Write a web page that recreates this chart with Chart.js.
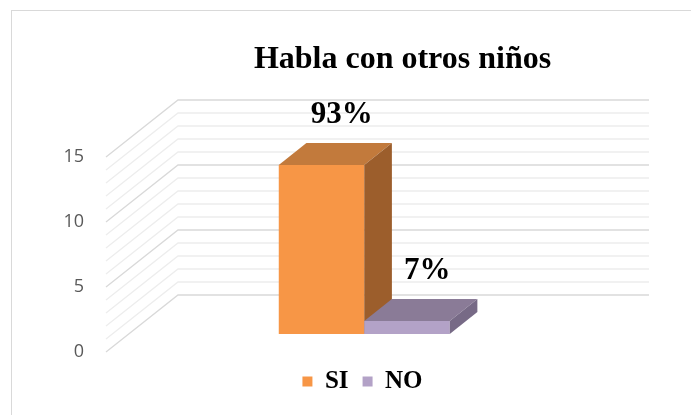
<!DOCTYPE html>
<html>
<head>
<meta charset="utf-8">
<title>Habla con otros niños</title>
<script src="https://cdn.jsdelivr.net/npm/chart.js@4.4.0/dist/chart.umd.min.js"></script>
<style>
    html, body { margin: 0; padding: 0; background: #fff; }
    #wrap { position: relative; width: 691px; height: 415px; overflow: hidden; }
    #frame {
        position: absolute; left: 11px; top: 10px; right: -2px; bottom: -2px;
        border-left: 1px solid #d9d9d9; border-top: 1px solid #d9d9d9;
        pointer-events: none;
    }
</style>
</head>
<body>
<div id="wrap">
    <canvas id="chart" width="691" height="415"></canvas>
    <div id="frame"></div>
</div>
<script>
// Chart data
const categories = [''];
const seriesNames = ['SI', 'NO'];
const siValues = [13];
const noValues = [1];
const yTicks = [0, 5, 10, 15];

(function() {
    'use strict';

    const SERIF = "'Liberation Serif', 'Times New Roman', serif";

    // face colours per series: front, top, side
    const FACES = [
        { front: '#F79646', top: '#C27A3C', side: '#9C5E2C' },
        { front: '#B3A2C7', top: '#8A7B97', side: '#776A86' }
    ];

    // oblique offset from the front edge of the floor to the back wall
    const DEPTH = { dx: 72, dy: -57 };
    const BAR_FRONT = 0.316;
    const BAR_BACK = 0.70;

    function poly(ctx, pts) {
        ctx.beginPath();
        ctx.moveTo(pts[0][0], pts[0][1]);
        for (let i = 1; i < pts.length; i++) ctx.lineTo(pts[i][0], pts[i][1]);
        ctx.closePath();
        ctx.fill();
    }

    /**
     * Side wall + back wall grid lines, one per unit
     */
    function drawWalls(chart) {
        const ctx = chart.ctx;
        const y = chart.scales.y;
        const area = chart.chartArea;
        ctx.save();
        ctx.lineWidth = 1.3;
        for (let v = y.min; v <= y.max; v++) {
            const py = y.getPixelForValue(v);
            ctx.strokeStyle = v % 5 === 0 ? '#d9d9d9' : '#ededed';
            ctx.beginPath();
            ctx.moveTo(area.left, py);
            ctx.lineTo(area.left + DEPTH.dx, py + DEPTH.dy);
            ctx.lineTo(area.right + DEPTH.dx, py + DEPTH.dy);
            ctx.stroke();
        }
        ctx.restore();
    }

    /**
     * 3D boxes from the bar elements, drawn in dataset order
     */
    function drawBars(chart) {
        const ctx = chart.ctx;
        const fx = DEPTH.dx * BAR_FRONT, fy = DEPTH.dy * BAR_FRONT;
        const bx = DEPTH.dx * (BAR_BACK - BAR_FRONT), by = DEPTH.dy * (BAR_BACK - BAR_FRONT);
        ctx.save();
        chart.data.datasets.forEach((ds, i) => {
            const faces = FACES[i];
            chart.getDatasetMeta(i).data.forEach(bar => {
                const p = bar.getProps(['x', 'y', 'base', 'width'], true);
                const l = p.x - p.width / 2 + fx, r = p.x + p.width / 2 + fx;
                const t = p.y + fy, b = p.base + fy;
                ctx.fillStyle = faces.front;
                ctx.fillRect(l, t, r - l, b - t);
                ctx.fillStyle = faces.top;
                poly(ctx, [[l, t], [r, t], [r + bx, t + by], [l + bx, t + by]]);
                ctx.fillStyle = faces.side;
                poly(ctx, [[r, t], [r + bx, t + by], [r + bx, b + by], [r, b]]);
            });
        });
        ctx.restore();
    }

    /**
     * Percentage labels above each box
     */
    function drawLabels(chart) {
        const ctx = chart.ctx;
        const datasets = chart.data.datasets;
        ctx.save();
        ctx.font = 'bold 31px ' + SERIF;
        ctx.fillStyle = '#000';
        ctx.textAlign = 'center';
        ctx.textBaseline = 'middle';
        datasets.forEach((ds, i) => {
            chart.getDatasetMeta(i).data.forEach((bar, j) => {
                const total = datasets.reduce((a, d) => a + d.data[j], 0);
                const pct = Math.round(ds.data[j] / total * 100) + '%';
                const p = bar.getProps(['x', 'y'], true);
                ctx.fillText(pct, p.x + 43, p.y - 68);
            });
        });
        ctx.restore();
    }

    const box3d = {
        id: 'box3d',
        afterLayout(chart) {
            // Excel centres title and legend over the plot, not the canvas
            chart.titleBlock.left += 106;
            chart.titleBlock.right += 106;
            chart.legend.left += 66;
            chart.legend.right += 66;
        },
        beforeDatasetsDraw(chart) {
            drawWalls(chart);
            drawBars(chart);
            return false;
        },
        afterDraw(chart) {
            drawLabels(chart);
        }
    };

    const series = [siValues, noValues];

    new Chart(document.getElementById('chart'), {
        type: 'bar',
        data: {
            labels: categories,
            datasets: seriesNames.map((name, i) => ({
                label: name,
                data: series[i],
                backgroundColor: FACES[i].front,
                borderWidth: 0,
                categoryPercentage: 0.363,
                barPercentage: 1
            }))
        },
        options: {
            responsive: false,
            animation: false,
            layout: {
                padding: { left: 16, right: 114, top: 41, bottom: 11 }
            },
            plugins: {
                title: {
                    display: true,
                    text: 'Habla con otros niños',
                    color: '#000',
                    font: { family: SERIF, size: 32, weight: 'bold', lineHeight: 1.2 },
                    padding: { top: 0, bottom: 77.6 }
                },
                legend: {
                    display: true,
                    position: 'bottom',
                    labels: {
                        color: '#000',
                        boxWidth: 10,
                        boxHeight: 10,
                        padding: 14,
                        font: { family: SERIF, size: 25, weight: 'bold' }
                    }
                },
                tooltip: { enabled: false }
            },
            scales: {
                x: {
                    display: true,
                    grid: { display: false, drawTicks: false },
                    border: { display: false },
                    ticks: { display: false },
                    afterFit(scale) { scale.height = 3; }
                },
                y: {
                    min: yTicks[0],
                    max: yTicks[yTicks.length - 1],
                    grid: { display: false, drawTicks: false },
                    border: { display: false },
                    afterBuildTicks(scale) {
                        scale.ticks = yTicks.map(v => ({ value: v }));
                    },
                    ticks: {
                        color: '#595959',
                        padding: 22,
                        font: { family: "'Open Sans', 'Noto Sans', sans-serif", size: 18 }
                    },
                    afterFit(scale) { scale.width = 90; }
                }
            }
        },
        plugins: [box3d]
    });
})();
</script>
</body>
</html>
